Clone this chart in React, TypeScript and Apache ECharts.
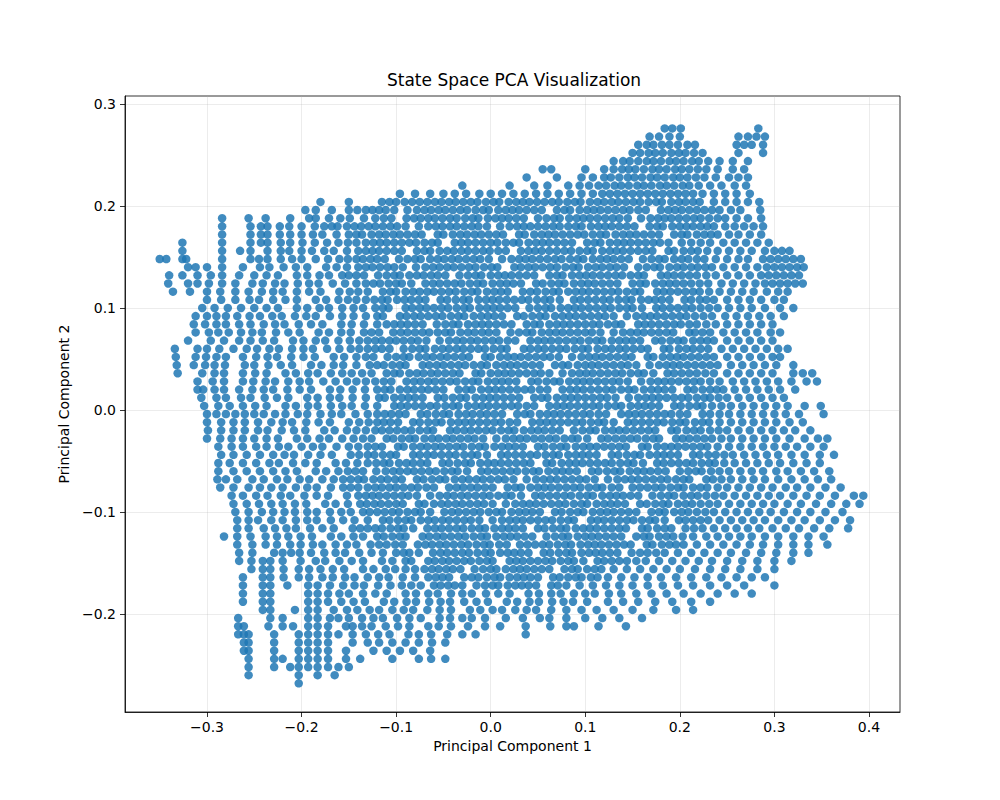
import React, { useEffect, useRef } from 'react';
import * as echarts from 'echarts';

// Points, row by row.
// Each row: [PC2, [PC1, PC1, ...]], all values in thousandths.
type Row = [number, number[]];

const upperClusterRows: Row[] = [
  [276, [184, 192, 201, 283]],
  [268, [168, 178, 189, 200, 262, 272, 281, 290]],
  [260, [156, 165, 172, 181, 189, 198, 208, 216, 260, 268, 276, 288]],
  [252, [150, 158, 167, 174, 182, 191, 199, 206, 215, 224, 262, 288]],
  [244, [130, 140, 147, 156, 165, 172, 180, 189, 196, 204, 213, 220, 230, 242, 256, 272]],
  [236, [55, 64, 100, 120, 130, 139, 146, 153, 162, 171, 178, 186, 195, 202, 210, 219, 228, 240, 256, 268]],
  [228, [38, 70, 96, 108, 120, 127, 136, 145, 152, 160, 169, 176, 184, 193, 200, 208, 217, 226, 238, 252, 262, 272]],
  [220, [-30, 20, 46, 60, 82, 94, 104, 114, 122, 131, 138, 146, 155, 162, 170, 179, 186, 194, 203, 210, 220, 232, 244, 258, 270]],
  [212, [-96, -80, -64, -50, -38, -26, -12, 0, 12, 24, 36, 48, 60, 72, 84, 96, 108, 118, 126, 134, 142, 150, 158, 166, 174, 182, 190, 198, 206, 214, 224, 236, 248, 260, 274]],
  [204, [-180, -150, -115, -107, -100, -91, -83, -75, -67, -59, -52, -44, -37, -29, -21, -14, -5, 3, 9, 19, 27, 34, 41, 49, 57, 65, 72, 81, 89, 95, 105, 113, 120, 128, 135, 143, 151, 158, 167, 175, 181, 191, 199, 206, 214, 221, 236, 248, 260, 272, 284]],
];

const upperBodyRows: Row[] = [
  [196, [-196, -185, -168, -150, -141, -132, -125, -118, -111, -102, -88, -78, -70, -63, -55, -48, -40, -32, -25, -16, -8, -2, 8, 16, 23, 30, 38, 46, 54, 70, 78, 84, 94, 102, 109, 116, 124, 132, 140, 147, 156, 164, 180, 188, 195, 202, 210, 218, 226, 234, 242, 254, 264, 285]],
  [188, [-284, -256, -238, -212, -192, -185, -171, -159, -149, -134, -122, -113, -105, -89, -81, -74, -66, -59, -51, -43, -36, -27, -19, -13, -3, 5, 12, 19, 27, 35, 50, 59, 67, 73, 83, 91, 98, 105, 113, 121, 129, 136, 145, 159, 169, 177, 184, 191, 199, 207, 215, 222, 231, 240, 248, 260, 272, 286]],
  [180, [-284, -254, -243, -236, -223, -213, -200, -186, -176, -168, -162, -152, -144, -137, -129, -122, -114, -106, -99, -90, -76, -66, -58, -51, -43, -36, -28, -20, -13, -4, 10, 20, 28, 35, 42, 50, 58, 66, 73, 82, 90, 96, 106, 114, 121, 128, 136, 144, 152, 168, 176, 182, 192, 200, 207, 214, 222, 229, 236, 248, 258, 268, 278, 288]],
  [172, [-284, -254, -243, -236, -223, -212, -200, -188, -178, -163, -150, -142, -136, -126, -118, -111, -103, -96, -88, -80, -73, -56, -50, -40, -32, -25, -17, -10, -2, 6, 13, 30, 36, 46, 54, 61, 68, 76, 84, 92, 99, 108, 116, 122, 132, 140, 147, 154, 162, 170, 178, 194, 202, 208, 218, 226, 233, 240, 252, 262, 274, 286]],
  [164, [-326, -284, -254, -243, -236, -222, -212, -199, -186, -173, -161, -151, -142, -132, -124, -117, -110, -102, -94, -86, -79, -70, -62, -56, -38, -31, -24, -16, -8, 0, 7, 16, 24, 30, 40, 48, 55, 62, 70, 78, 86, 102, 110, 116, 126, 134, 141, 148, 156, 164, 172, 179, 188, 202, 212, 222, 232, 246, 258, 270, 282, 294]],
  [156, [-326, -284, -265, -254, -236, -222, -213, -200, -189, -176, -166, -152, -140, -132, -125, -118, -110, -102, -94, -78, -70, -64, -54, -46, -39, -31, -24, -16, -8, -1, 8, 16, 32, 40, 47, 54, 62, 70, 78, 85, 94, 102, 108, 118, 126, 133, 140, 148, 156, 164, 171, 188, 194, 204, 212, 219, 229, 240, 252, 264, 276, 290, 300, 308, 316]],
  [148, [-350, -343, -326, -322, -284, -254, -245, -236, -222, -210, -200, -185, -172, -160, -151, -142, -135, -127, -120, -112, -97, -88, -80, -74, -64, -56, -49, -41, -34, -26, -18, -11, -2, 12, 22, 30, 37, 44, 52, 60, 68, 75, 84, 92, 98, 108, 116, 123, 130, 138, 146, 161, 170, 178, 184, 194, 202, 209, 218, 226, 238, 250, 262, 272, 288, 296, 304, 312, 320, 328]],
  [140, [-320, -312, -300, -284, -262, -244, -234, -219, -206, -194, -174, -163, -152, -140, -132, -125, -117, -109, -102, -93, -79, -69, -61, -54, -46, -39, -31, -23, -16, -7, 1, 7, 25, 32, 40, 47, 55, 63, 70, 79, 87, 93, 103, 111, 118, 126, 133, 141, 156, 165, 173, 179, 189, 197, 204, 212, 219, 227, 234, 246, 258, 270, 282, 292, 300, 308, 316, 324, 331]],
  [132, [-340, -326, -310, -296, -284, -266, -250, -237, -225, -205, -194, -181, -171, -157, -150, -142, -134, -119, -110, -102, -96, -86, -78, -71, -63, -56, -48, -33, -24, -16, -10, 0, 8, 15, 22, 30, 38, 46, 62, 70, 76, 86, 94, 101, 108, 116, 124, 132, 139, 148, 156, 162, 180, 187, 194, 202, 210, 218, 228, 238, 250, 262, 274, 286, 294, 302, 310, 318, 326]],
  [124, [-341, -320, -310, -298, -284, -270, -252, -241, -228, -218, -204, -192, -182, -167, -154, -142, -132, -124, -117, -108, -100, -94, -84, -69, -61, -54, -46, -38, -31, -22, -14, -8, 2, 10, 17, 24, 32, 48, 55, 64, 72, 78, 88, 96, 103, 110, 118, 126, 134, 150, 158, 164, 174, 182, 189, 196, 204, 212, 221, 230, 244, 256, 268, 280, 290, 298, 306, 314, 322, 330]],
  [116, [-336, -318, -300, -286, -270, -256, -242, -230, -220, -205, -192, -180, -160, -149, -140, -130, -114, -106, -100, -90, -82, -75, -67, -60, -52, -44, -37, -28, -20, -14, -4, 4, 11, 18, 34, 42, 49, 58, 66, 72, 82, 90, 97, 104, 112, 120, 128, 135, 144, 152, 158, 176, 183, 190, 198, 206, 214, 221, 231, 242, 254, 266, 278, 292, 304, 314]],
  [108, [-300, -285, -270, -255, -245, -230, -217, -205, -185, -174, -161, -151, -142, -132, -123, -115, -109, -99, -91, -84, -76, -69, -53, -46, -37, -29, -23, -13, -5, 2, 9, 17, 25, 33, 40, 49, 57, 63, 73, 88, 95, 103, 111, 119, 126, 135, 143, 149, 159, 167, 174, 181, 189, 205, 212, 221, 228, 236, 250, 262, 274, 286, 300, 310]],
  [100, [-305, -292, -278, -264, -250, -237, -225, -205, -194, -181, -171, -157, -145, -135, -122, -114, -108, -90, -83, -75, -68, -60, -52, -45, -36, -28, -22, -12, -4, 3, 10, 18, 26, 41, 50, 58, 64, 74, 82, 89, 96, 104, 112, 120, 127, 136, 144, 150, 160, 175, 182, 190, 198, 206, 213, 222, 231, 240, 252, 264, 276, 290, 306, 320]],
];

const centralBodyRows: Row[] = [
  [92, [-312, -300, -290, -280, -268, -255, -244, -231, -221, -207, -195, -185, -170, -157, -145, -132, -120, -114, -96, -89, -81, -74, -66, -58, -51, -42, -34, -28, -18, -10, -3, 4, 12, 28, 35, 44, 52, 58, 68, 76, 83, 90, 98, 106, 114, 121, 130, 144, 154, 162, 169, 176, 184, 192, 200, 207, 216, 225, 234, 248, 260, 272, 284, 296, 310]],
  [84, [-314, -302, -290, -280, -266, -254, -240, -228, -218, -203, -190, -178, -158, -147, -134, -120, -110, -102, -95, -88, -80, -72, -57, -48, -40, -34, -24, -16, -9, -2, 6, 14, 22, 38, 46, 52, 62, 70, 77, 84, 92, 100, 108, 115, 124, 132, 138, 156, 163, 170, 178, 186, 194, 201, 210, 218, 228, 238, 250, 262, 274, 286, 298]],
  [76, [-312, -298, -288, -277, -264, -252, -242, -227, -214, -202, -182, -171, -158, -148, -134, -126, -118, -103, -95, -88, -80, -72, -65, -56, -48, -42, -32, -24, -17, -9, -2, 6, 21, 30, 38, 44, 54, 62, 69, 76, 84, 92, 100, 107, 116, 130, 140, 148, 155, 162, 170, 178, 186, 193, 210, 216, 224, 232, 246, 258, 270, 282, 296, 306]],
  [68, [-320, -296, -282, -266, -254, -241, -229, -209, -198, -185, -175, -161, -149, -139, -130, -122, -115, -107, -100, -92, -84, -77, -68, -54, -44, -36, -29, -21, -14, -6, 2, 9, 18, 26, 42, 50, 57, 64, 72, 80, 88, 95, 104, 112, 118, 128, 136, 143, 150, 158, 174, 181, 190, 198, 204, 214, 222, 229, 236, 250, 262, 274, 286, 298]],
  [60, [-334, -310, -300, -287, -272, -258, -247, -234, -224, -210, -198, -188, -173, -160, -148, -139, -130, -122, -115, -107, -92, -83, -75, -69, -59, -51, -44, -36, -29, -21, -13, -6, 3, 11, 17, 35, 42, 50, 57, 65, 73, 80, 89, 97, 103, 113, 121, 128, 136, 143, 151, 159, 166, 183, 189, 199, 207, 214, 222, 230, 244, 256, 268, 280, 292, 304, 314]],
  [52, [-333, -312, -301, -290, -280, -262, -248, -236, -226, -211, -198, -186, -166, -155, -142, -132, -124, -109, -100, -92, -86, -76, -68, -61, -53, -46, -38, -30, -23, -6, 0, 10, 18, 25, 32, 40, 48, 56, 63, 72, 86, 96, 104, 111, 118, 126, 134, 142, 149, 166, 172, 182, 190, 197, 204, 212, 220, 228, 236, 250, 262, 274, 286, 298, 306]],
  [44, [-332, -314, -302, -292, -281, -260, -250, -235, -222, -210, -190, -179, -166, -156, -142, -128, -120, -113, -104, -96, -90, -72, -65, -57, -50, -42, -34, -27, -18, -10, -4, 6, 14, 21, 28, 36, 44, 52, 68, 76, 82, 92, 100, 107, 114, 122, 130, 138, 145, 154, 168, 178, 186, 193, 200, 208, 216, 224, 232, 240, 254, 266, 278, 290, 302, 320]],
  [36, [-331, -305, -292, -282, -262, -249, -237, -217, -206, -193, -183, -169, -157, -147, -136, -126, -110, -102, -96, -86, -78, -71, -63, -56, -48, -40, -33, -16, -10, 0, 8, 15, 22, 30, 38, 46, 53, 62, 76, 86, 94, 101, 108, 116, 124, 132, 139, 148, 156, 162, 172, 187, 194, 202, 210, 218, 227, 236, 250, 262, 274, 286, 298, 320, 330, 340]],
  [28, [-310, -294, -282, -262, -251, -238, -228, -214, -202, -192, -177, -164, -152, -142, -132, -122, -113, -105, -89, -81, -74, -66, -59, -51, -43, -36, -27, -19, -13, -3, 5, 12, 19, 27, 43, 50, 59, 67, 73, 83, 91, 98, 105, 113, 121, 129, 136, 145, 159, 169, 177, 184, 191, 199, 207, 215, 222, 232, 242, 256, 268, 280, 292, 304, 318, 334, 345]],
  [20, [-310, -304, -292, -282, -266, -252, -240, -230, -215, -202, -190, -170, -159, -146, -133, -120, -112, -106, -96, -88, -81, -73, -66, -58, -50, -34, -26, -20, -10, -2, 5, 12, 20, 28, 36, 43, 52, 60, 76, 84, 91, 98, 106, 114, 122, 129, 138, 146, 152, 162, 170, 177, 184, 192, 208, 215, 224, 232, 239, 246, 258, 270, 282, 294, 306, 322]],
  [12, [-306, -290, -280, -264, -254, -239, -226, -214, -194, -183, -170, -160, -146, -132, -118, -112, -102, -94, -87, -80, -72, -56, -49, -40, -32, -26, -16, -8, -1, 6, 14, 22, 30, 46, 54, 60, 70, 78, 85, 92, 100, 108, 116, 123, 132, 146, 156, 164, 171, 178, 186, 194, 202, 209, 218, 226, 232, 241, 250, 262, 274, 286, 298, 310]],
  [4, [-303, -288, -276, -262, -249, -237, -217, -206, -193, -183, -169, -157, -147, -133, -120, -102, -95, -88, -80, -72, -64, -57, -48, -40, -34, -24, -16, -9, -2, 6, 14, 22, 29, 38, 46, 62, 70, 77, 84, 92, 100, 108, 115, 124, 132, 138, 148, 156, 163, 170, 178, 194, 201, 210, 218, 224, 234, 244, 254, 266, 278, 290, 302, 314, 332, 349]],
  [-4, [-300, -290, -280, -270, -260, -250, -240, -228, -217, -204, -194, -180, -168, -158, -143, -130, -120, -112, -105, -97, -90, -74, -67, -58, -50, -44, -34, -26, -19, -11, -4, 4, 12, 28, 36, 42, 52, 60, 67, 74, 82, 90, 98, 105, 114, 122, 138, 146, 153, 160, 168, 176, 184, 191, 200, 208, 224, 232, 242, 252, 264, 276, 288, 300, 312, 326, 352]],
];

const lowerBodyRows: Row[] = [
  [-12, [-300, -285, -272, -260, -246, -232, -220, -210, -195, -182, -170, -150, -139, -129, -120, -113, -106, -98, -82, -75, -66, -58, -52, -42, -34, -27, -20, -12, -4, 4, 11, 20, 28, 44, 52, 59, 66, 74, 82, 90, 97, 106, 114, 120, 130, 145, 152, 160, 168, 176, 183, 192, 200, 206, 216, 224, 231, 242, 254, 266, 278, 290, 302, 316, 330]],
  [-20, [-299, -285, -272, -260, -246, -236, -221, -208, -196, -176, -165, -152, -142, -132, -122, -115, -107, -99, -91, -84, -75, -67, -61, -43, -36, -28, -21, -13, -5, 2, 11, 19, 25, 35, 43, 50, 57, 65, 73, 88, 97, 105, 111, 121, 129, 136, 143, 151, 159, 167, 174, 191, 197, 207, 215, 222, 232, 241, 250, 262, 274, 286, 298, 310, 322, 338]],
  [-28, [-300, -286, -274, -262, -250, -237, -225, -205, -194, -181, -171, -157, -145, -135, -126, -110, -103, -94, -86, -80, -70, -62, -55, -47, -40, -32, -24, -17, -8, 6, 16, 24, 31, 38, 46, 54, 62, 69, 78, 86, 92, 102, 117, 124, 132, 140, 148, 155, 164, 172, 178, 196, 203, 210, 218, 226, 234, 244, 254, 266, 278, 290, 302, 316, 332, 346, 356]],
  [-36, [-288, -274, -262, -248, -237, -224, -214, -200, -188, -178, -163, -150, -140, -130, -122, -115, -98, -92, -82, -74, -67, -59, -52, -44, -36, -29, -20, -12, -6, 4, 12, 19, 26, 34, 50, 57, 66, 74, 80, 90, 98, 105, 112, 120, 128, 136, 143, 160, 166, 176, 184, 191, 198, 206, 214, 222, 229, 240, 252, 264, 276, 288, 300, 312, 324, 338, 352]],
  [-44, [-285, -272, -258, -244, -230, -218, -208, -193, -180, -168, -148, -139, -130, -123, -114, -106, -100, -82, -75, -67, -60, -52, -44, -37, -28, -20, -14, -4, 11, 18, 26, 34, 42, 49, 58, 66, 72, 82, 90, 97, 104, 112, 128, 135, 144, 152, 158, 168, 176, 183, 190, 198, 214, 221, 230, 238, 247, 256, 268, 280, 292, 304, 318, 332, 348, 363]],
  [-52, [-288, -276, -262, -248, -234, -224, -209, -196, -184, -164, -153, -141, -130, -121, -113, -107, -97, -89, -82, -74, -67, -51, -44, -35, -27, -21, -11, -3, 4, 11, 19, 27, 35, 42, 59, 65, 75, 83, 90, 97, 105, 113, 121, 128, 137, 145, 151, 161, 176, 183, 191, 199, 207, 214, 223, 231, 237, 247, 258, 270, 282, 294, 306, 320, 334, 348]],
  [-60, [-288, -272, -258, -244, -230, -217, -205, -185, -174, -161, -151, -143, -135, -121, -111, -103, -96, -88, -81, -73, -65, -58, -49, -41, -35, -25, -10, -3, 5, 13, 21, 28, 37, 45, 51, 61, 69, 76, 83, 91, 107, 114, 123, 131, 137, 147, 155, 162, 169, 177, 185, 200, 209, 217, 223, 233, 242, 252, 264, 276, 288, 302, 314, 328, 342, 358]],
  [-68, [-289, -280, -268, -252, -240, -226, -215, -202, -192, -178, -166, -156, -148, -140, -134, -124, -116, -109, -101, -94, -78, -71, -62, -54, -48, -38, -30, -23, -15, -8, 0, 8, 15, 24, 38, 48, 56, 63, 70, 78, 86, 94, 101, 110, 124, 134, 142, 149, 156, 164, 172, 180, 187, 196, 204, 210, 228, 235, 244, 254, 266, 278, 290, 304, 318, 332, 346, 360]],
  [-76, [-286, -272, -256, -244, -232, -220, -206, -194, -184, -169, -156, -148, -140, -130, -122, -115, -107, -100, -92, -84, -77, -68, -60, -44, -36, -29, -21, -14, -6, 2, 18, 26, 32, 42, 50, 57, 64, 72, 80, 88, 95, 104, 112, 118, 128, 136, 150, 158, 166, 174, 181, 190, 198, 204, 214, 222, 229, 240, 250, 262, 274, 286, 298, 312, 324, 338, 354, 370]],
  [-84, [-274, -262, -248, -236, -222, -212, -197, -184, -172, -152, -140, -132, -125, -118, -110, -102, -94, -87, -78, -64, -54, -46, -39, -31, -24, -16, -8, -1, 8, 16, 22, 32, 47, 54, 62, 70, 78, 85, 94, 102, 108, 118, 126, 133, 140, 148, 156, 171, 180, 188, 194, 204, 212, 219, 228, 237, 246, 258, 270, 282, 294, 306, 320, 334, 348, 364, 384, 394]],
  [-92, [-272, -258, -245, -232, -220, -207, -195, -175, -164, -151, -138, -131, -123, -116, -108, -100, -93, -76, -70, -60, -52, -45, -37, -30, -22, -14, -7, 2, 16, 26, 34, 41, 48, 56, 64, 72, 79, 88, 96, 102, 112, 120, 127, 134, 142, 158, 165, 174, 182, 188, 198, 206, 213, 222, 231, 240, 252, 264, 276, 288, 300, 314, 328, 344, 360, 376, 390]],
  [-100, [-270, -256, -242, -230, -218, -207, -194, -184, -170, -158, -148, -135, -128, -120, -112, -104, -97, -88, -80, -74, -64, -49, -41, -34, -26, -18, -11, -2, 6, 12, 22, 30, 37, 44, 52, 68, 75, 84, 92, 98, 108, 116, 123, 130, 138, 146, 154, 170, 178, 184, 194, 202, 209, 218, 227, 236, 248, 260, 272, 284, 296, 310, 324, 338, 354, 372]],
  [-108, [-268, -256, -246, -232, -220, -206, -194, -184, -169, -156, -144, -130, -114, -107, -98, -90, -84, -74, -66, -59, -51, -44, -36, -28, -21, -12, 2, 12, 20, 27, 34, 42, 50, 58, 65, 74, 82, 88, 106, 113, 120, 128, 136, 144, 151, 160, 168, 174, 184, 199, 206, 214, 222, 230, 242, 254, 266, 278, 290, 304, 318, 332, 348, 364, 380]],
];

const bottomRows: Row[] = [
  [-116, [-268, -256, -240, -228, -216, -206, -191, -178, -166, -146, -138, -130, -122, -115, -106, -98, -92, -82, -67, -59, -52, -44, -36, -29, -20, -12, -6, 4, 12, 19, 26, 34, 50, 57, 66, 74, 80, 90, 98, 105, 112, 120, 128, 136, 143, 160, 166, 176, 184, 191, 206, 215, 224, 236, 248, 260, 272, 284, 298, 312, 326, 342, 358, 378]],
  [-124, [-282, -268, -254, -238, -226, -214, -201, -189, -169, -158, -145, -135, -120, -113, -104, -96, -90, -72, -65, -57, -50, -42, -34, -27, -18, -10, -4, 6, 14, 21, 28, 36, 44, 59, 68, 76, 82, 92, 100, 107, 114, 122, 130, 138, 154, 162, 168, 178, 186, 193, 203, 214, 228, 240, 252, 264, 276, 290, 304, 320, 336, 352]],
  [-132, [-268, -252, -238, -226, -212, -201, -188, -178, -164, -152, -142, -127, -118, -110, -101, -93, -77, -69, -62, -54, -47, -39, -31, -24, -15, -7, -1, 9, 17, 31, 39, 47, 55, 62, 71, 79, 85, 95, 103, 110, 117, 125, 133, 141, 148, 165, 171, 181, 189, 196, 204, 218, 232, 246, 260, 274, 288, 304, 320, 336, 356]],
  [-140, [-266, -252, -229, -220, -211, -202, -190, -176, -164, -154, -139, -126, -114, -100, -92, -86, -76, -61, -53, -46, -38, -30, -23, -14, -6, 0, 10, 18, 25, 32, 40, 56, 63, 72, 80, 86, 96, 104, 111, 118, 126, 134, 149, 158, 166, 175, 184, 198, 212, 226, 240, 254, 270, 286, 302, 320, 336]],
  [-148, [-266, -253, -241, -233, -220, -201, -185, -175, -160, -147, -135, -115, -104, -90, -84, -66, -59, -51, -44, -36, -28, -21, -12, -4, 2, 20, 27, 34, 42, 50, 58, 65, 74, 82, 88, 98, 113, 120, 128, 136, 144, 154, 164, 178, 192, 206, 220, 234, 250, 266, 282, 300, 318]],
  [-156, [-253, -241, -233, -219, -203, -192, -180, -167, -155, -135, -124, -111, -101, -90, -80, -70, -62, -55, -47, -40, -32, -17, -8, 0, 6, 16, 24, 31, 38, 46, 54, 62, 78, 86, 92, 102, 110, 117, 130, 144, 158, 172, 186, 200, 216, 232, 248, 264, 282, 300]],
  [-164, [-262, -241, -233, -219, -203, -192, -178, -167, -154, -144, -130, -118, -108, -93, -80, -66, -58, -51, -44, -28, -20, -13, -4, 4, 10, 20, 28, 35, 42, 50, 66, 73, 82, 90, 96, 106, 113, 124, 138, 152, 166, 180, 196, 212, 228, 244, 260, 276, 290]],
  [-172, [-262, -241, -233, -215, -193, -183, -170, -156, -144, -134, -119, -106, -94, -84, -74, -60, -53, -45, -38, -30, -15, -6, 2, 8, 18, 26, 33, 40, 48, 64, 71, 80, 94, 108, 122, 136, 150, 166, 182, 198, 214, 232, 250, 268, 300]],
  [-180, [-262, -241, -233, -193, -183, -172, -160, -150, -135, -122, -110, -90, -79, -66, -56, -42, -30, -20, -5, 8, 20, 40, 51, 64, 74, 88, 100, 110, 125, 138, 154, 170, 186, 204, 222, 240, 258, 276]],
  [-188, [-262, -241, -233, -193, -183, -172, -158, -145, -133, -113, -102, -89, -79, -65, -53, -43, -28, -15, -3, 17, 28, 41, 51, 65, 77, 87, 102, 124, 140, 156, 174, 192, 212, 232]],
  [-196, [-241, -233, -207, -193, -183, -166, -152, -141, -128, -118, -104, -92, -82, -67, -54, -42, -22, -11, 2, 12, 26, 38, 48, 64, 80, 96, 112, 130, 150, 172, 196, 214]],
  [-204, [-267, -233, -220, -193, -183, -170, -161, -150, -136, -124, -114, -99, -86, -74, -54, -43, -30, -20, -6, 16, 34, 52, 62, 80, 100, 118, 136, 160]],
  [-212, [-267, -261, -235, -220, -209, -193, -183, -172, -153, -146, -136, -126, -111, -98, -86, -66, -55, -42, -24, -6, 10, 37, 63, 80, 88, 114, 143]],
  [-220, [-267, -261, -256, -229, -203, -193, -183, -172, -161, -146, -132, -119, -107, -87, -76, -63, -46, -30, -16, 37]],
  [-228, [-261, -256, -229, -203, -193, -183, -172, -146, -130, -118, -104, -90, -76, -62, -48]],
  [-236, [-261, -256, -229, -203, -193, -183, -172, -153, -124, -110, -96, -82, -64]],
  [-244, [-256, -229, -220, -203, -193, -183, -172, -153, -138, -104, -76, -63, -48]],
  [-252, [-256, -229, -212, -203, -193, -183, -172, -161, -150]],
  [-260, [-256, -203, -183, -165]],
  [-268, [-203]],
];

const xTicks = [-0.3, -0.2, -0.1, 0.0, 0.1, 0.2, 0.3, 0.4];
const yTicks = [-0.2, -0.1, 0.0, 0.1, 0.2, 0.3];

const FONT = 'DejaVu Sans';

const toPoints = (rows: Row[]) =>
  rows.flatMap(([y, xs]) => xs.map((x) => [x / 1000, y / 1000]));

const tickText = (v: number) => (v < -1e-9 ? '\u2212' : '') + Math.abs(v).toFixed(1);

const App: React.FC = () => {
  const chartRef = useRef<HTMLDivElement>(null);

  useEffect(() => {
    document.body.style.margin = '0';
    const chart = echarts.init(chartRef.current!, undefined, { renderer: 'svg' });

    const points = [
      ...toPoints(upperClusterRows),
      ...toPoints(upperBodyRows),
      ...toPoints(centralBodyRows),
      ...toPoints(lowerBodyRows),
      ...toPoints(bottomRows),
    ];

    const axisCommon = {
      type: 'value',
      axisLine: { show: true, onZero: false, lineStyle: { color: '#000', width: 0.8 } },
      splitLine: { show: true, lineStyle: { color: '#b0b0b0', opacity: 0.3, width: 0.8 } },
      nameLocation: 'middle',
      nameTextStyle: { color: '#000', fontSize: 14, fontFamily: FONT },
    };

    chart.setOption({
      animation: false,
      backgroundColor: '#fff',
      title: {
        text: 'State Space PCA Visualization',
        left: 387,
        top: 71,
        padding: 0,
        textStyle: { color: '#000', fontSize: 17, fontWeight: 'normal', fontFamily: FONT },
      },
      grid: {
        left: 125,
        top: 96,
        width: 775,
        height: 616,
        show: true,
        borderColor: '#000',
        borderWidth: 0.8,
        backgroundColor: 'transparent',
      },
      xAxis: {
        ...axisCommon,
        min: -0.3867,
        max: 0.4328,
        splitNumber: 8,
        name: 'Principal Component 1',
        nameGap: 27,
        axisTick: { show: true, length: 5, customValues: xTicks, lineStyle: { color: '#000', width: 0.8 } },
        axisLabel: {
          customValues: xTicks,
          formatter: tickText,
          color: '#000',
          fontSize: 14,
          fontFamily: FONT,
          margin: 8,
        },
      },
      yAxis: {
        ...axisCommon,
        min: -0.2961,
        max: 0.3078,
        splitNumber: 6,
        name: 'Principal Component 2',
        nameGap: 48,
        axisTick: { show: true, length: 5, customValues: yTicks, lineStyle: { color: '#000', width: 0.8 } },
        axisLabel: {
          customValues: yTicks,
          formatter: tickText,
          color: '#000',
          fontSize: 14,
          fontFamily: FONT,
          margin: 9,
        },
      },
      series: [
        {
          type: 'scatter',
          data: points,
          symbol: 'circle',
          symbolSize: 8.5,
          large: false,
          progressive: 0,
          itemStyle: { color: '#1f77b4', opacity: 0.85 },
          silent: true,
        },
      ],
    });

    return () => {
      chart.dispose();
    };
  }, []);

  return <div ref={chartRef} style={{ width: '1000px', height: '800px' }} />;
};

export default App;
